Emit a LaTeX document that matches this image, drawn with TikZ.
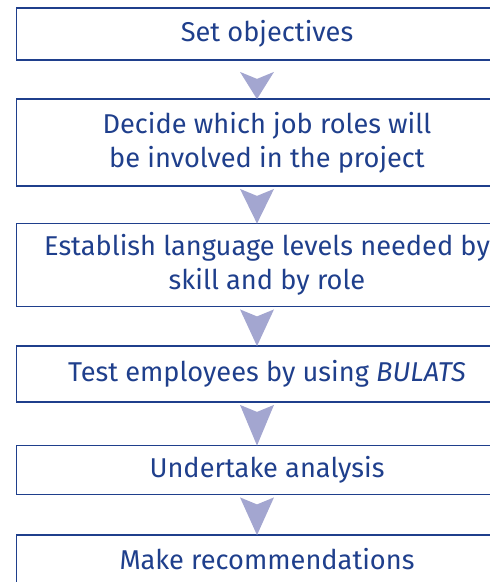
\documentclass[tikz,border=0pt]{standalone}
\usepackage{fontspec}
\setmainfont{Fira Sans}
\usepackage{tikz}
\usetikzlibrary{calc}

\definecolor{boxblue}{HTML}{1F3F8C}
\definecolor{tri}{HTML}{A3A6D0}

\tikzset{
    stepbox/.style={draw=boxblue, line width=1.8pt, text=boxblue,
        minimum width=501pt, align=center, inner sep=0pt,
        font=\fontsize{27.2}{34}\selectfont},
    arrowfill/.style={fill=tri}
}

\newcommand{\flowtri}[3][2pt]{%
    \fill[arrowfill] ($(#2.south)+(-27pt,-#1)$) -- ($(#2.south)+(-10pt,-#1-7pt)$)
        -- ($(#2.south)+(7pt,-#1)$) -- ($(#3.north)+(-10pt,-1pt)$) -- cycle;
}

\begin{document}
\begin{tikzpicture}[x=1pt,y=1pt]
    \useasboundingbox (0,0) rectangle (490,-582);
    \node[stepbox, minimum height=52pt] (obj) at (267,-34) {Set objectives};
    \node[stepbox, minimum height=87pt] (roles) at (267,-142.5)
        {Decide which job roles will\\be involved in the project};
    \node[stepbox, minimum height=83pt] (levels) at (267,-265)
        {Establish language levels needed by\\skill and by role};
    \node[stepbox, minimum height=56pt] (test) at (267,-374)
        {Test employees by using \textit{BULATS}};
    \node[stepbox, minimum height=49pt] (anal) at (267,-470) {Undertake analysis};
    \node[stepbox, minimum height=48pt] (recs) at (267,-559) {Make recommendations};
    \flowtri[11pt]{obj}{roles}
    \flowtri{roles}{levels}
    \flowtri{levels}{test}
    \flowtri{test}{anal}
    \flowtri{anal}{recs}
\end{tikzpicture}
\end{document}
